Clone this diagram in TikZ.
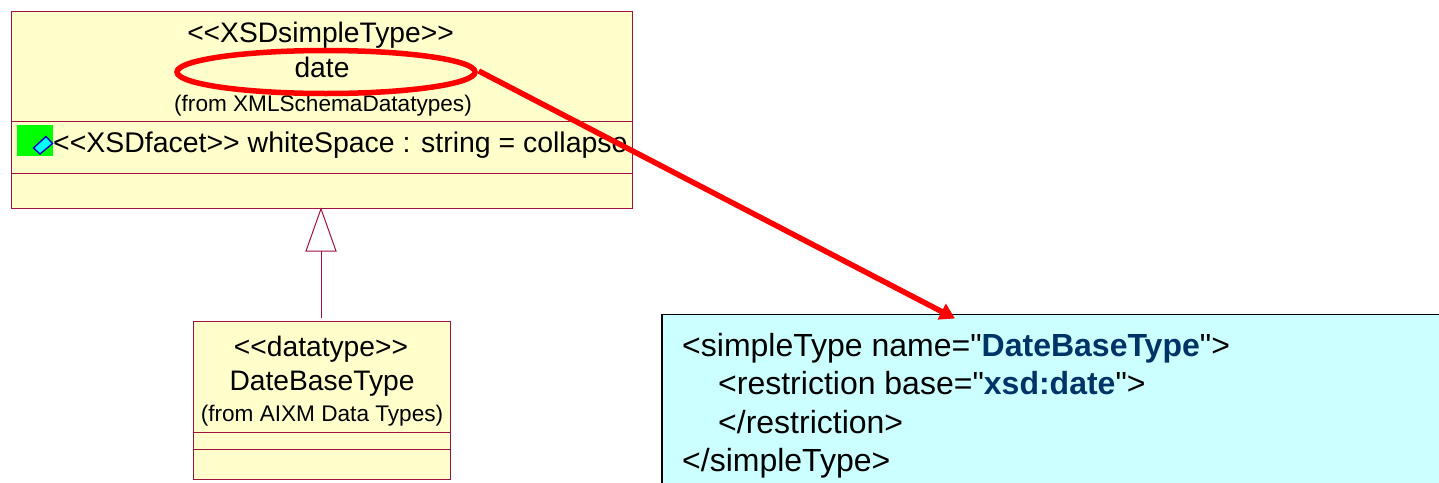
\documentclass[tikz,border=0pt]{standalone}
\usepackage{fontspec}
\setmainfont{Liberation Sans}[Ligatures=TeXOff]
\usetikzlibrary{shapes.geometric,arrows.meta}
\definecolor{umlfill}{RGB}{255,255,204}
\definecolor{umlline}{RGB}{160,16,64}
\definecolor{xmlfill}{RGB}{204,255,255}
\definecolor{navyt}{RGB}{0,51,102}
\definecolor{iconfill}{RGB}{0,255,255}
\definecolor{iconline}{RGB}{0,0,200}
\definecolor{icongreen}{RGB}{0,255,0}
\newcommand{\fs}[1]{\fontsize{#1}{#1}\selectfont}
\tikzset{
  umlbox/.style={draw=umlline,fill=umlfill,line width=1.3pt,rectangle,inner sep=0pt,anchor=north west},
  umlrule/.style={draw=umlline,line width=1pt},
  lab/.style={inner sep=0pt,anchor=base,text=black},
  big/.style={lab,font=\fs{28.2}},
  small/.style={lab,font=\fs{22.6}},
  xml/.style={inner sep=0pt,anchor=base west,text=black,font=\fs{32}}
}
\begin{document}
\begin{tikzpicture}[x=1pt,y=-1pt]
\useasboundingbox (0,0) rectangle (1439,482);
% upper class
\node[umlbox,minimum width=621pt,minimum height=197pt] (cls) at (11,10.5) {};
\draw[umlrule] (cls.west |- 0,121) coordinate (c1) -- (cls.east |- 0,121) coordinate (c2);
\draw[umlrule] (cls.west |- 0,173) coordinate (c3) -- (cls.east |- 0,173) coordinate (c4);
\node[big] (t1) at (320.5,42) {<{}<XSDsimpleType>{}>};
\node[big] (t2) at (322,77.5) {date};
\node[small] (t3) at (323,111) {(from XMLSchemaDatatypes)};
\node[fill=icongreen,inner sep=0pt,minimum width=36pt,minimum height=31pt,anchor=north west] (ic) at (17,125) {};
\draw[fill=iconfill,draw=iconline,line width=1.4pt] (33.5,148) -- (46,136.5) -- (52.5,143.5) -- (40,154) -- cycle;
\node[lab,anchor=base west,font=\fs{28.45}] (attr) at (53,152) {<{}<XSDfacet>{}> whiteSpace : string = collapse};
% lower class
\node[umlbox,minimum width=256.5pt,minimum height=158.5pt] (sub) at (193,320.5) {};
\draw[umlrule] (sub.west |- 0,432) -- (sub.east |- 0,432);
\draw[umlrule] (sub.west |- 0,449) -- (sub.east |- 0,449);
\node[big] (s1) at (321,356.5) {<{}<datatype>{}>};
\node[big] (s2) at (322,390.5) {DateBaseType};
\node[small] (s3) at (322,421) {(from AIXM Data Types)};
% generalization
\coordinate (apex) at (cls.south -| 321,0);
\coordinate (bl) at (306,251);
\coordinate (br) at (336,251);
\coordinate (bm) at (321,251);
\coordinate (subtop) at (321,318);
\draw[umlline,line width=1pt,fill=white] (apex) -- (br) -- (bl) -- cycle;
\draw[umlline,line width=1pt] (bm) -- (subtop);
% xml box
\node[draw=black,fill=xmlfill,line width=1.5pt,inner sep=0pt,minimum width=800pt,minimum height=300pt,anchor=north west] (xb) at (661,313.5) {};
\node[xml] (x1) at (682,356.5) {<simpleType name="\textcolor{navyt}{\textbf{DateBaseType}}">};
\node[xml] (x2) at (718,394.5) {<restriction base="\textcolor{navyt}{\textbf{xsd:date}}">};
\node[xml] (x3) at (718,433) {</restriction>};
\node[xml] (x4) at (682,471) {</simpleType>};
% callout
\node[ellipse,draw=red,line width=5.5pt,inner sep=0pt,minimum width=298pt,minimum height=43pt] (oval) at (326,72) {};
\coordinate (tip) at (955,318.5);
\draw[red,line width=5.5pt,-{Triangle[length=15pt,width=17pt]}] (oval.east) ++(1,-1) -- (tip);
\end{tikzpicture}
\end{document}
